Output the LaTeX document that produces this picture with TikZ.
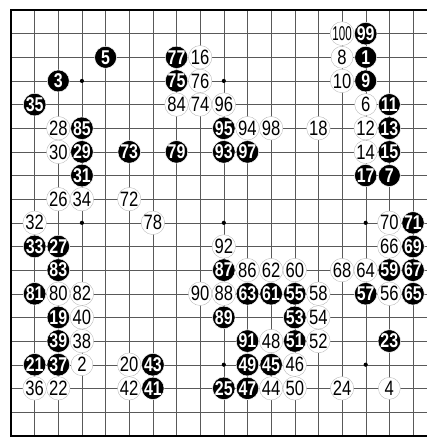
\documentclass[tikz,border=0pt]{standalone}
\usepackage{fontspec}
\setmainfont{Liberation Sans}
\newfontfamily\movefont[FakeStretch=0.8]{Liberation Sans}
\newfontfamily\narrowfont[FakeStretch=0.58]{Liberation Sans}
\usetikzlibrary{calc}

\begin{document}
\begin{tikzpicture}[
  x=1cm, y=-1cm,
  edge/.style={line width=2.2pt},
  gridline/.style={line width=0.4pt, black!65},
  star/.style={circle, fill=black, inner sep=0pt, minimum size=5pt},
  bstone/.style={
    circle, fill=black, draw=white, line width=0.6pt, inner sep=0pt,
    minimum size=0.93cm, text=white,
    font=\movefont\bfseries\fontsize{24}{24}\selectfont
  },
  wstone/.style={
    circle, fill=white, draw=black!30, line width=0.4pt, inner sep=0pt,
    minimum size=0.93cm, font=\movefont\fontsize{25}{25}\selectfont
  }
]
  \useasboundingbox[fill=white] (-0.465,-0.423) rectangle (17.59,18.10);
  \clip (-0.465,-0.423) rectangle (17.59,18.10);

  % board
  \foreach \i in {1,...,17} {
    \draw[gridline] (\i,0) -- (\i,18);
    \draw[gridline] (0,\i) -- (18,\i);
  }
  \draw[edge] (0,0) rectangle (18,18);
  \foreach \c/\r in {3/3,9/3,15/3,3/9,9/9,15/9,3/15,9/15,15/15}
    \node[star] (h\c\r) at (\c,\r) {};

  % black stones: column/row/move
  \foreach \c/\r/\n in {16/2/99, 16/3/1, 5/3/5, 8/3/77, 3/4/3, 8/4/75, 16/4/9,
      2/5/35, 17/5/11, 4/6/85, 10/6/95, 17/6/13, 4/7/29, 6/7/73, 8/7/79,
      10/7/93, 11/7/97, 17/7/15, 4/8/31, 16/8/17, 17/8/7, 18/10/71, 2/11/33,
      3/11/27, 18/11/69, 3/12/83, 10/12/87, 17/12/59, 18/12/67, 2/13/81,
      11/13/63, 12/13/61, 13/13/55, 16/13/57, 18/13/65, 3/14/19, 10/14/89,
      13/14/53, 3/15/39, 11/15/91, 13/15/51, 17/15/23, 2/16/21, 3/16/37,
      7/16/43, 11/16/49, 12/16/45, 7/17/41, 10/17/25, 11/17/47}
    \node[bstone] (m\n) at (\c-1,\r-1) {\n};

  % white stones
  \foreach \c/\r/\n in {9/3/16, 15/3/8, 9/4/76, 15/4/10, 8/5/84, 9/5/74,
      10/5/96, 16/5/6, 3/6/28, 11/6/94, 12/6/98, 14/6/18, 16/6/12, 3/7/30,
      16/7/14, 3/9/26, 4/9/34, 6/9/72, 2/10/32, 7/10/78, 17/10/70, 10/11/92,
      17/11/66, 11/12/86, 12/12/62, 13/12/60, 15/12/68, 16/12/64, 3/13/80,
      4/13/82, 9/13/90, 10/13/88, 14/13/58, 17/13/56, 4/14/40, 14/14/54,
      4/15/38, 12/15/48, 14/15/52, 4/16/2, 6/16/20, 13/16/46, 2/17/36,
      3/17/22, 6/17/42, 12/17/44, 13/17/50, 15/17/24, 17/17/4}
    \node[wstone] (m\n) at (\c-1,\r-1) {\n};
  \node[wstone, font=\narrowfont\fontsize{24}{24}\selectfont] (m100) at (14,1) {100};
\end{tikzpicture}
\end{document}
